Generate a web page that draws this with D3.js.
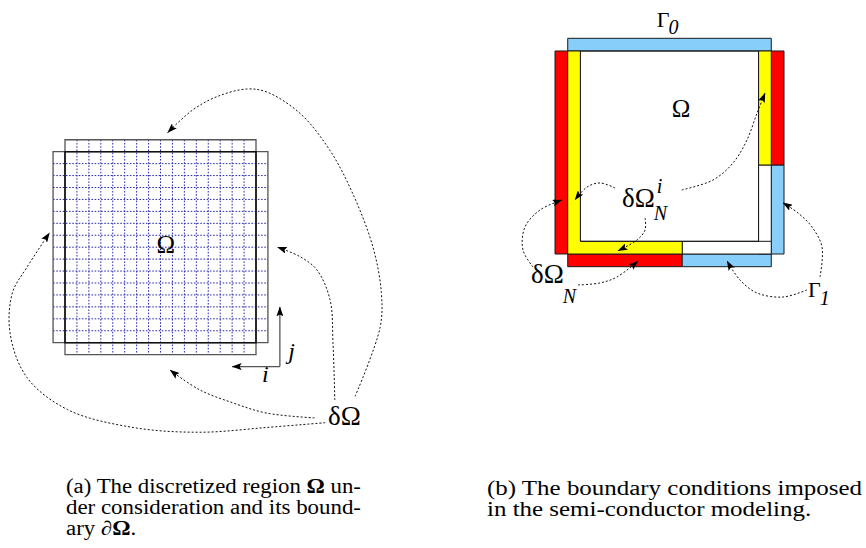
<!DOCTYPE html>
<html>
<head>
<meta charset="utf-8">
<script src="https://cdn.jsdelivr.net/npm/d3@7/dist/d3.min.js"></script>
<style>
  html, body { margin: 0; padding: 0; background: #fff; }
  svg { display: block; }
</style>
</head>
<body>
<svg id="fig" width="866" height="548" font-family="'Liberation Serif', 'DejaVu Serif', serif"></svg>
<script>
// ---------- data (all geometry in lattice-cell units) ----------
const cellsPerSide = 16;

// Panel (a): dotted grid lines, columns/rows of the lattice
const gridCols = d3.range(1, cellsPerSide);
const gridRows = d3.range(1, cellsPerSide);

// Panel (a): the two overlapping outline rectangles [c0, r0, c1, r1]
const outlineTall = [0, -1, 16, 17];
const outlineWide = [-1, 0, 17, 16];

// Panel (a): dotted leader curves from the boundary label
const leadersA = [
  [[24.3,20.5],[26.4,14.7],[26.5,11.8],[25.8,8],[24.1,3.5],[22.2,-0.1],[19.7,-3.2],[16.9,-5],[15.2,-5.25],[12.7,-4.6],[10.7,-3.5],[8.6,-1.6]],
  [[21.8,22.7],[16.9,23.1],[11.3,23.5],[5.7,23.1],[0.2,21.6],[-3.2,18.9],[-4.6,15.2],[-4.4,11.8],[-3.2,9.7],[-1.3,6.8]],
  [[22.6,20.8],[22.45,16],[22.2,12.4],[21.1,9.9],[19.7,8.8],[17.8,8.0]],
  [[20.9,22.3],[16.9,21.9],[14.1,21.05],[11.3,19.96],[8.8,18.3]]
];

// Panel (a): index axes (origin, j tip, i tip)
const axisOrigin = [18, 18];
const axisTips = [[18, 13], [14, 18]];

// Panel (b): coloured boundary strips [c0, r0, c1, r1, kind]
const strips = [
  [0, -1, 16, 0, "dirichlet"],
  [-1, 0, 0, 16, "neumann"],
  [16, 0, 17, 9, "neumann"],
  [0, 16, 9, 17, "neumann"],
  [16, 9, 17, 16, "dirichlet"],
  [9, 16, 16, 17, "dirichlet"],
  [15, 0, 16, 9, "innerNeumann"],
  [15, 9, 16, 16, "plain"],
  [9, 15, 16, 16, "plain"]
];
// Panel (b): inner Neumann L-shaped strip
const innerL = [[0,0],[1,0],[1,15],[9,15],[9,16],[0,16]];
// Panel (b): interior square
const interior = [1, 0, 15, 15];

// Panel (b): dotted leader curves
const leadersB = [
  [[8.96,10.95],[11.42,10.17],[12.99,8.83],[14.09,7.01],[14.88,4.89],[15.51,3.31]],
  [[3.72,10.8],[2.54,10.4],[1.52,10.72],[0.57,11.74]],
  [[6.08,13.16],[6.08,14.11],[5.45,14.89],[3.95,15.74]],
  [[0.81,18.44],[2.54,18.28],[3.87,17.81],[5.53,16.55]],
  [[-2.73,17.02],[-3.52,15.68],[-3.36,13.87],[-2.18,12.53],[-0.45,11.74]],
  [[19.83,17.81],[19.99,15.45],[19.2,13.87],[18.1,12.77],[16.92,11.96]],
  [[18.81,18.83],[16.92,19.39],[14.88,19.07],[13.54,18.05],[12.52,16.55]]
];

const kindColor = d3.scaleOrdinal()
  .domain(["dirichlet", "neumann", "innerNeumann", "plain"])
  .range(["#87cefa", "#ff0000", "#ffff00", "#ffffff"]);

// Labels: [base, superscript, subscript, c, r] in panel-(b) lattice units
const labelsB = [
  ["Γ", "", "0", 7.0, -1.91],
  ["δΩ", "i", "N", 4.27, 12.29],
  ["δΩ", "", "N", -2.89, 18.28],
  ["Γ", "", "1", 18.89, 19.38]
];
const labelSize = [22, 27, 27, 22];
const subDrop = [7, 13, 20, 8];

// Caption lines: each line is a list of [text, bold] runs
const captionA = [
  [["(a) The discretized region ", false], ["Ω", true], [" un-", false]],
  [["der consideration and its bound-", false]],
  [["ary ∂", false], ["Ω", true], [".", false]]
];
const captionB = [
  [["(b) The boundary conditions imposed", false]],
  [["in the semi-conductor modeling.", false]]
];

// ---------- scales ----------
const xa = d3.scaleLinear().domain([0, cellsPerSide]).range([65, 256]);
const ya = d3.scaleLinear().domain([0, cellsPerSide]).range([151.7, 342.7]);
const xb = d3.scaleLinear().domain([-1, cellsPerSide + 1]).range([555, 784]);
const yb = d3.scaleLinear().domain([-1, cellsPerSide + 1]).range([38.3, 266.7]);

const svg = d3.select("#fig");

// arrowhead marker
svg.append("defs").append("marker")
  .attr("id", "head")
  .attr("markerUnits", "userSpaceOnUse")
  .attr("viewBox", "0 0 10 7")
  .attr("markerWidth", 10).attr("markerHeight", 7)
  .attr("refX", 9.5).attr("refY", 3.5)
  .attr("orient", "auto")
  .append("path").attr("d", "M0,0 L10,3.5 L0,7 L2,3.5 Z").attr("fill", "#000");

function rectPts(r) {
  return [[r[0], r[1]], [r[2], r[1]], [r[2], r[3]], [r[0], r[3]]];
}

// ---------- panel (a) ----------
const ga = svg.append("g");
const polyA = d3.line().x(d => xa(d[0])).y(d => ya(d[1]));

ga.selectAll("line.v").data(gridCols).join("line")
  .attr("x1", d => xa(d)).attr("x2", d => xa(d))
  .attr("y1", ya(-1)).attr("y2", ya(17))
  .attr("stroke", "#2a2aa8").attr("stroke-width", 1)
  .attr("stroke-dasharray", "1.6,1.6");
ga.selectAll("line.h").data(gridRows).join("line")
  .attr("y1", d => ya(d)).attr("y2", d => ya(d))
  .attr("x1", xa(-1)).attr("x2", xa(17))
  .attr("stroke", "#2a2aa8").attr("stroke-width", 1)
  .attr("stroke-dasharray", "1.6,1.6");

[outlineTall, outlineWide].forEach(r => {
  ga.append("path").attr("d", polyA(rectPts(r)) + "Z")
    .attr("fill", "none").attr("stroke", "#555").attr("stroke-width", 1.3);
});
ga.append("path")
  .attr("d", polyA(rectPts([Math.max(outlineTall[0], outlineWide[0]), Math.max(outlineTall[1], outlineWide[1]),
                            Math.min(outlineTall[2], outlineWide[2]), Math.min(outlineTall[3], outlineWide[3])])) + "Z")
  .attr("fill", "none").attr("stroke", "#111").attr("stroke-width", 1.6);

ga.append("text").attr("x", xa(8.45)).attr("y", ya(8.48))
  .attr("text-anchor", "middle").attr("font-size", 25).text("Ω");

const curveA = d3.line().x(d => xa(d[0])).y(d => ya(d[1])).curve(d3.curveCatmullRom.alpha(0.5));
ga.selectAll("path.leader").data(leadersA).join("path")
  .attr("class", "leader")
  .attr("d", curveA).attr("fill", "none")
  .attr("stroke", "#111").attr("stroke-width", 1)
  .attr("stroke-dasharray", "2,2")
  .attr("marker-end", "url(#head)");

ga.selectAll("line.axis").data(axisTips).join("line")
  .attr("x1", xa(axisOrigin[0])).attr("y1", ya(axisOrigin[1]))
  .attr("x2", d => xa(d[0])).attr("y2", d => ya(d[1]))
  .attr("stroke", "#555").attr("stroke-width", 1.3)
  .attr("marker-end", "url(#head)");
ga.append("text").attr("x", xa(18.7)).attr("y", ya(17.4))
  .attr("font-size", 24).attr("font-style", "italic").text("j");
ga.append("text").attr("x", xa(16.5)).attr("y", ya(19.3))
  .attr("font-size", 24).attr("font-style", "italic").text("i");

ga.append("text").attr("x", xa(22.03)).attr("y", ya(22.89))
  .attr("font-size", 27).text("δΩ");

// ---------- panel (b) ----------
const gb = svg.append("g");
const polyB = d3.line().x(d => xb(d[0])).y(d => yb(d[1]));

gb.selectAll("path.strip").data(strips).join("path")
  .attr("d", d => polyB(rectPts(d)) + "Z")
  .attr("fill", d => kindColor(d[4]))
  .attr("stroke", "#1a1a1a").attr("stroke-width", 1);
gb.append("path").attr("d", polyB(innerL) + "Z")
  .attr("fill", kindColor("innerNeumann"))
  .attr("stroke", "#1a1a1a").attr("stroke-width", 1);
gb.append("path").attr("d", polyB(rectPts(interior)) + "Z")
  .attr("fill", "none").attr("stroke", "#1a1a1a").attr("stroke-width", 1);

const curveB = d3.line().x(d => xb(d[0])).y(d => yb(d[1])).curve(d3.curveCatmullRom.alpha(0.5));
gb.selectAll("path.leader").data(leadersB).join("path")
  .attr("class", "leader")
  .attr("d", curveB).attr("fill", "none")
  .attr("stroke", "#111").attr("stroke-width", 1)
  .attr("stroke-dasharray", "2,2")
  .attr("marker-end", "url(#head)");

gb.append("text").attr("x", xb(8.91)).attr("y", yb(5.2))
  .attr("text-anchor", "middle").attr("font-size", 25).text("Ω");

// base symbols with scripts placed after the base glyphs
labelsB.forEach(([base, sup, sub, c, r], k) => {
  const x = xb(c), y = yb(r);
  const t = gb.append("text").attr("x", x).attr("y", y).attr("font-size", labelSize[k]).text(base);
  const w = t.node().getComputedTextLength();
  if (sup) gb.append("text").attr("x", x + w + 2).attr("y", y - 14)
    .attr("font-size", 20).attr("font-style", "italic").text(sup);
  if (sub) gb.append("text").attr("x", x + w - 1).attr("y", y + subDrop[k])
    .attr("font-size", 20).attr("font-style", "italic").text(sub);
});

// ---------- captions ----------
// Each caption is a small paragraph: justified lines get the column width,
// the last line keeps the same horizontal scale as the first line.
function caption(lines, x, y0, lead, colWidth, justified) {
  const g = svg.append("g").attr("font-size", 20);
  const nodes = lines.map((runs, i) => {
    const t = g.append("text").attr("x", x).attr("y", y0 + i * lead);
    runs.forEach(([s, b]) => t.append("tspan").attr("font-weight", b ? "bold" : null).text(s));
    return t;
  });
  const k = colWidth / nodes[0].node().getComputedTextLength();
  nodes.forEach((t, i) => {
    const w = justified[i] ? colWidth : t.node().getComputedTextLength() * k;
    t.attr("textLength", w).attr("lengthAdjust", "spacingAndGlyphs");
  });
}
caption(captionA, 66, 493, 21, 295, [true, true, false]);
caption(captionB, 487, 495, 21, 375, [true, false]);
</script>
</body>
</html>
